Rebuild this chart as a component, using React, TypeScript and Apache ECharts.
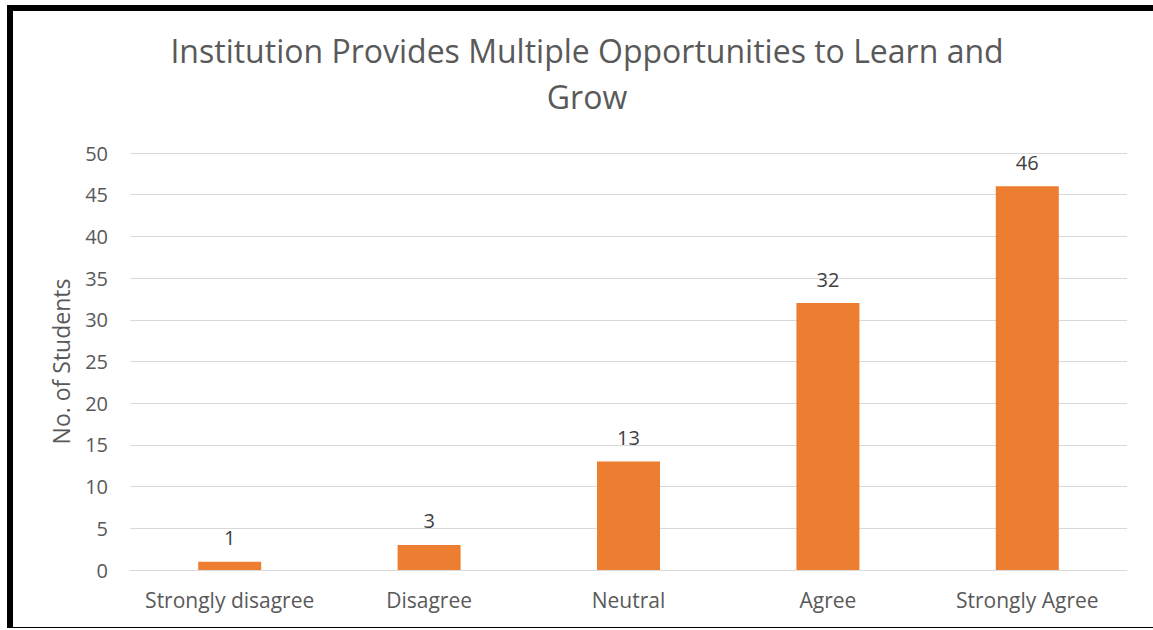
import React, { useEffect, useRef } from "react";
import * as echarts from "echarts";

const categories = ["Strongly disagree", "Disagree", "Neutral", "Agree", "Strongly Agree"];
const students = [1, 3, 13, 32, 46];
const titleText = "Institution Provides Multiple Opportunities to Learn and\nGrow";
const yAxisName = "No. of Students";

export default function App() {
  const ref = useRef<HTMLDivElement>(null);
  useEffect(() => {
    if (!ref.current) return;
    const chart = echarts.init(ref.current, null, { renderer: "svg" });
    const font = "'Open Sans', 'Noto Sans', sans-serif";
    chart.setOption({
      animation: false,
      backgroundColor: "#ffffff",
      title: {
        text: titleText,
        left: 582,
        top: 22,
        textAlign: "center",
        textStyle: {
          fontFamily: font,
          fontSize: 32,
          fontWeight: "normal",
          color: "#595959",
          lineHeight: 46,
        },
      },
      grid: { left: 130, right: 26, top: 153, bottom: 60 },
      xAxis: {
        type: "category",
        data: categories,
        axisLine: { show: true, lineStyle: { color: "#D9D9D9", width: 1 } },
        axisTick: { show: false },
        axisLabel: { interval: 0, hideOverlap: false, fontFamily: font, fontSize: 21, color: "#595959", margin: 19 },
      },
      yAxis: {
        type: "value",
        min: 0,
        max: 50,
        interval: 5,
        name: yAxisName,
        nameLocation: "middle",
        nameGap: 58,
        nameTextStyle: { fontFamily: font, fontSize: 23, color: "#595959" },
        axisLine: { show: false },
        axisTick: { show: false },
        splitLine: { lineStyle: { color: "#D9D9D9", width: 1 } },
        axisLabel: { fontFamily: font, fontSize: 20, color: "#595959", margin: 22 },
      },
      series: [
        {
          type: "bar",
          data: students,
          barWidth: 63,
          itemStyle: { color: "#ED7D31" },
          label: {
            show: true,
            position: "top",
            distance: 14,
            fontFamily: font,
            fontSize: 20,
            color: "#404040",
          },
        },
      ],
    });
    return () => chart.dispose();
  }, []);
  return (
    <div style={{ position: "absolute", left: 0, top: 0, width: 1153, height: 630, overflow: "hidden", background: "#fff" }}>
      <div ref={ref} style={{ position: "absolute", left: 0, top: 0, width: 1153, height: 630 }} />
      <div
        style={{
          position: "absolute",
          left: 7,
          top: 5,
          width: 1160,
          height: 616,
          borderLeft: "6px solid #000",
          borderTop: "6px solid #000",
          borderBottom: "1px solid #000",
          pointerEvents: "none",
        }}
      />
    </div>
  );
}
